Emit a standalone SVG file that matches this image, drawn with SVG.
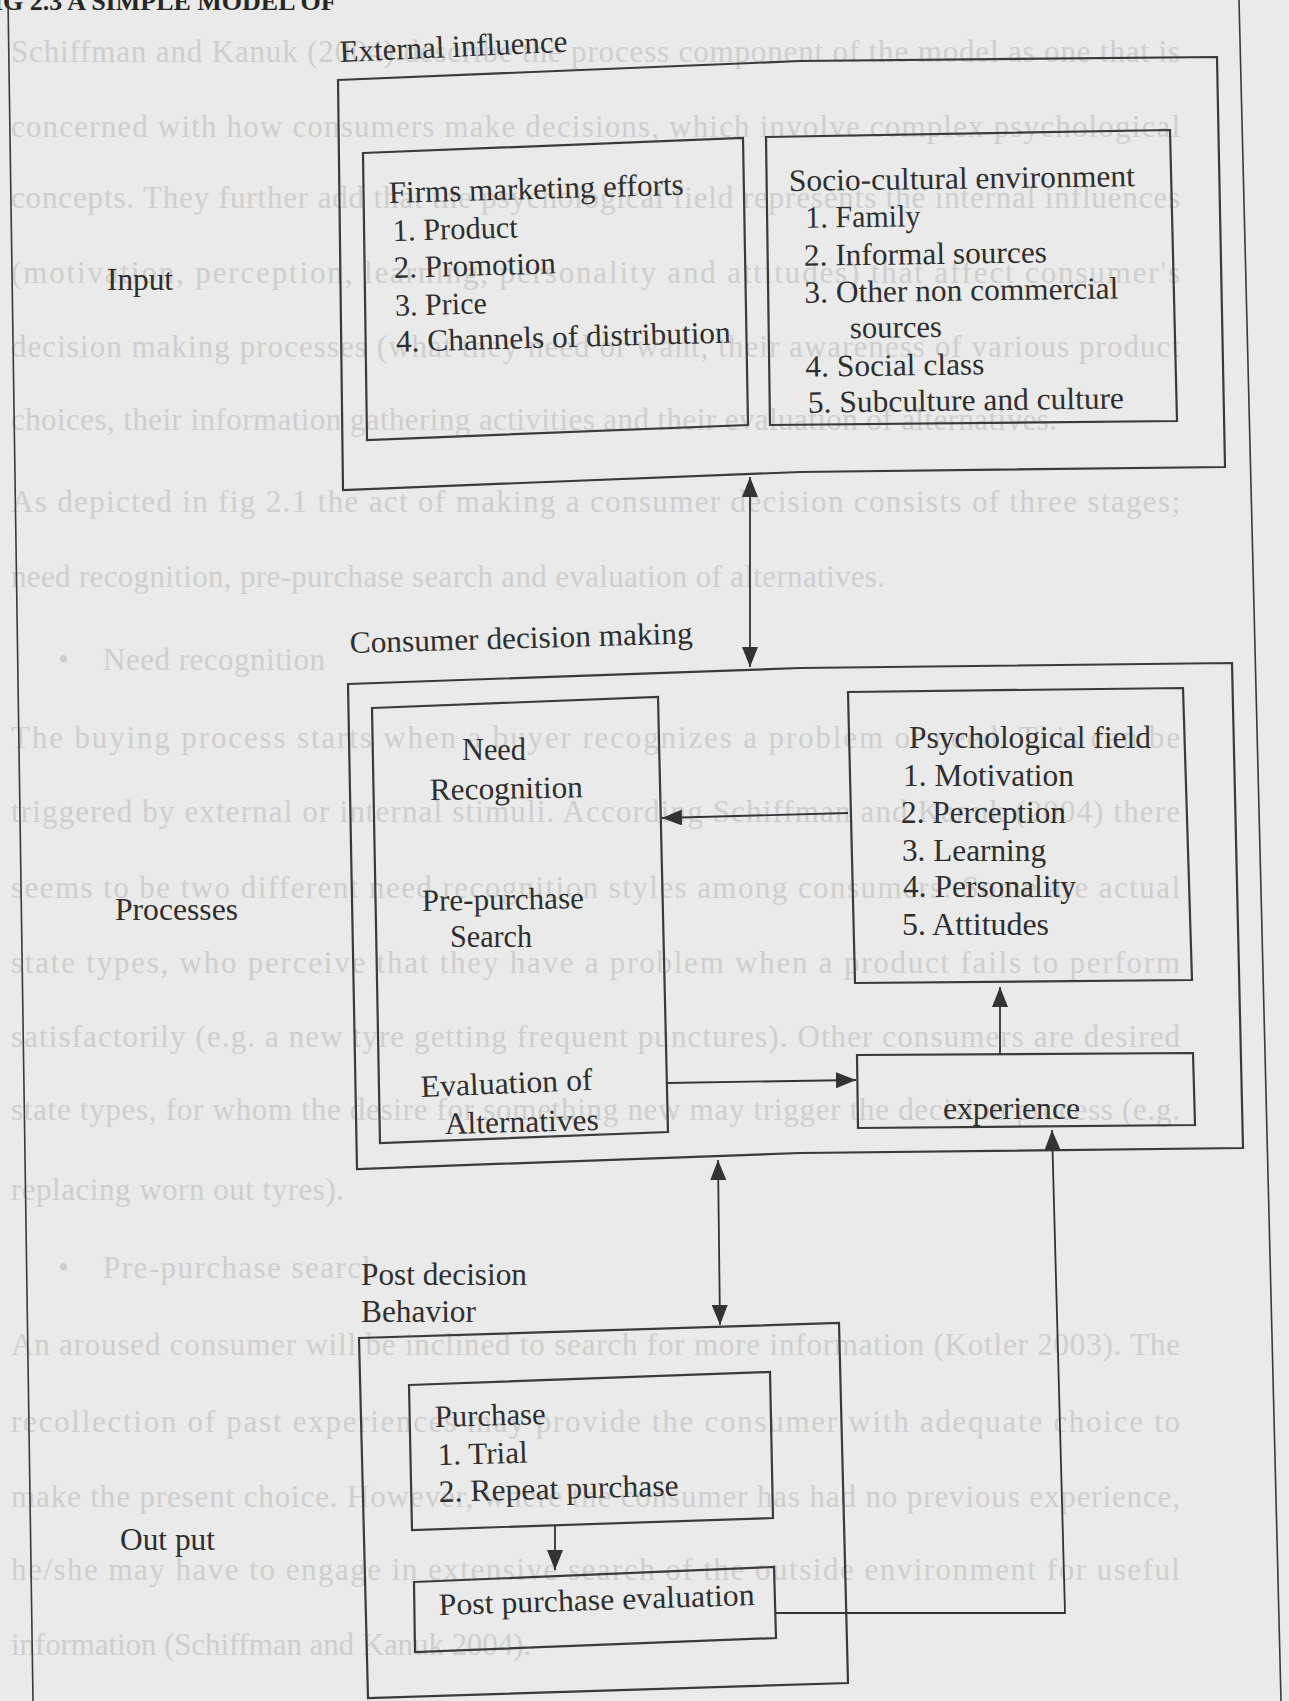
<svg xmlns="http://www.w3.org/2000/svg" width="1289" height="1701" viewBox="0 0 1289 1701">
<style>
.box{fill:none;stroke:#3a3a3a;stroke-width:2.2;stroke-linejoin:miter}
.pg{fill:none;stroke:#3a3a3a;stroke-width:1.6}
.con{fill:none;stroke:#333;stroke-width:1.8}
.t{font-family:"Liberation Serif","Times New Roman",serif;font-size:31px;fill:#2e2e2e}
.bg{font-family:"Liberation Serif","Times New Roman",serif;font-size:31px;fill:#cecece}
.hd{font-family:"Liberation Serif","Times New Roman",serif;font-size:26px;font-weight:bold;fill:#262626}
</style>
<defs>
<marker id="ah" viewBox="0 0 20 16" refX="20" refY="8" markerWidth="20" markerHeight="16" markerUnits="userSpaceOnUse" orient="auto-start-reverse">
<path d="M0,0 L20,8 L0,16 z" fill="#333"/>
</marker>
</defs>
<rect x="0" y="0" width="1289" height="1701" fill="#eaeaea"/>

<g id="background-text">
<text class="bg" x="11" y="62" textLength="1169" lengthAdjust="spacing">Schiffman and Kanuk (2004) describe the process component of the model as one that is</text>
<text class="bg" x="11" y="137" textLength="1169" lengthAdjust="spacing">concerned with how consumers make decisions, which involve complex psychological</text>
<text class="bg" x="11" y="208" textLength="1169" lengthAdjust="spacing">concepts. They further add that the psychological field represents the internal influences</text>
<text class="bg" x="11" y="283" textLength="1169" lengthAdjust="spacing">(motivation, perception, learning, personality and attitudes) that affect consumer's</text>
<text class="bg" x="11" y="357" textLength="1169" lengthAdjust="spacing">decision making processes (what they need or want, their awareness of various product</text>
<text class="bg" x="11" y="430" textLength="1046" lengthAdjust="spacing">choices, their information gathering activities and their evaluation of alternatives.</text>
<text class="bg" x="11" y="512" textLength="1169" lengthAdjust="spacing">As depicted in fig 2.1 the act of making a consumer decision consists of three stages;</text>
<text class="bg" x="11" y="587" textLength="874" lengthAdjust="spacing">need recognition, pre-purchase search and evaluation of alternatives.</text>
<text class="bg" x="58" y="670">•</text>
<text class="bg" x="103" y="670" textLength="222" lengthAdjust="spacing">Need recognition</text>
<text class="bg" x="11" y="748" textLength="1169" lengthAdjust="spacing">The buying process starts when a buyer recognizes a problem or need. This can be</text>
<text class="bg" x="11" y="822" textLength="1169" lengthAdjust="spacing">triggered by external or internal stimuli. According Schiffman and Kanuk (2004) there</text>
<text class="bg" x="11" y="898" textLength="1169" lengthAdjust="spacing">seems to be two different need recognition styles among consumers. Some are actual</text>
<text class="bg" x="11" y="973" textLength="1169" lengthAdjust="spacing">state types, who perceive that they have a problem when a product fails to perform</text>
<text class="bg" x="11" y="1047" textLength="1169" lengthAdjust="spacing">satisfactorily (e.g. a new tyre getting frequent punctures). Other consumers are desired</text>
<text class="bg" x="11" y="1120" textLength="1169" lengthAdjust="spacing">state types, for whom the desire for something new may trigger the decision process (e.g.</text>
<text class="bg" x="11" y="1200" textLength="333" lengthAdjust="spacing">replacing worn out tyres).</text>
<text class="bg" x="58" y="1278">•</text>
<text class="bg" x="103" y="1278" textLength="275" lengthAdjust="spacing">Pre-purchase search</text>
<text class="bg" x="11" y="1355" textLength="1169" lengthAdjust="spacing">An aroused consumer will be inclined to search for more information (Kotler 2003). The</text>
<text class="bg" x="11" y="1432" textLength="1169" lengthAdjust="spacing">recollection of past experiences may provide the consumer with adequate choice to</text>
<text class="bg" x="11" y="1507" textLength="1169" lengthAdjust="spacing">make the present choice. However, where the consumer has had no previous experience,</text>
<text class="bg" x="11" y="1580" textLength="1169" lengthAdjust="spacing">he/she may have to engage in extensive search of the outside environment for useful</text>
<text class="bg" x="11" y="1655" textLength="520" lengthAdjust="spacing">information (Schiffman and Kanuk 2004).</text>
</g>

<g id="page">
<text class="hd" x="-23" y="10">FIG 2.3 A SIMPLE MODEL OF</text>
<path class="pg" d="M8,0 L33,1701"/>
<path class="pg" d="M1239,0 L1281,1701"/>
<text class="t" x="107" y="290" textLength="66" lengthAdjust="spacingAndGlyphs">Input</text>
<text class="t" x="115" y="920" textLength="123" lengthAdjust="spacingAndGlyphs">Processes</text>
<text class="t" x="120" y="1550" textLength="95" lengthAdjust="spacingAndGlyphs">Out put</text>
</g>

<g id="external-influence">
<path class="box" d="M338,80 L800,61 L1217,57 L1225,467 L800,472 L343,490 Z"/>
<text class="t" x="340" y="62" textLength="228" lengthAdjust="spacingAndGlyphs" transform="rotate(-2.6 340 62)">External influence</text>
</g>

<g id="firms-marketing">
<path class="box" d="M363,153 L743,138 L748,425 L367,440 Z"/>
<g transform="rotate(-1.6 389 203)">
<text class="t" x="389" y="203" textLength="295" lengthAdjust="spacingAndGlyphs">Firms marketing efforts</text>
<text class="t" x="392" y="241" textLength="125" lengthAdjust="spacingAndGlyphs">1. Product</text>
<text class="t" x="392" y="278" textLength="162" lengthAdjust="spacingAndGlyphs">2. Promotion</text>
<text class="t" x="392" y="316" textLength="92" lengthAdjust="spacingAndGlyphs">3. Price</text>
<text class="t" x="392" y="352" textLength="335" lengthAdjust="spacingAndGlyphs">4. Channels of distribution</text>
</g>
</g>

<g id="socio-cultural">
<path class="box" d="M766,137 L1170,130 L1177,421 L770,425 Z"/>
<g transform="rotate(-0.8 789 191)">
<text class="t" x="789" y="191" textLength="346" lengthAdjust="spacingAndGlyphs">Socio-cultural environment</text>
<text class="t" x="805" y="228" textLength="115" lengthAdjust="spacingAndGlyphs">1. Family</text>
<text class="t" x="803" y="266" textLength="243" lengthAdjust="spacingAndGlyphs">2. Informal sources</text>
<text class="t" x="803" y="303" textLength="314" lengthAdjust="spacingAndGlyphs">3. Other non commercial</text>
<text class="t" x="848" y="339" textLength="92" lengthAdjust="spacingAndGlyphs">sources</text>
<text class="t" x="803" y="377" textLength="179" lengthAdjust="spacingAndGlyphs">4. Social class</text>
<text class="t" x="805" y="413" textLength="316" lengthAdjust="spacingAndGlyphs">5. Subculture and culture</text>
</g>
</g>

<g id="consumer-decision-making">
<path class="box" d="M348,684 L800,668 L1232,663 L1243,1148 L800,1153 L357,1169 Z"/>
<text class="t" x="350" y="653" textLength="343" lengthAdjust="spacingAndGlyphs" transform="rotate(-1.6 350 653)">Consumer decision making</text>
</g>

<g id="need-recognition">
<path class="box" d="M372,708 L658,697 L668,1132 L380,1143 Z"/>
<text class="t" x="462" y="760" textLength="64" lengthAdjust="spacingAndGlyphs">Need</text>
<text class="t" x="430" y="800" textLength="153" lengthAdjust="spacingAndGlyphs" transform="rotate(-1 430 800)">Recognition</text>
<text class="t" x="422" y="911" textLength="162" lengthAdjust="spacingAndGlyphs" transform="rotate(-1 422 911)">Pre-purchase</text>
<text class="t" x="450" y="947" textLength="82" lengthAdjust="spacingAndGlyphs">Search</text>
<text class="t" x="421" y="1097" textLength="172" lengthAdjust="spacingAndGlyphs" transform="rotate(-2.4 421 1097)">Evaluation of</text>
<text class="t" x="445" y="1134" textLength="154" lengthAdjust="spacingAndGlyphs" transform="rotate(-1.5 445 1134)">Alternatives</text>
</g>

<g id="psychological-field">
<path class="box" d="M848,692 L1183,688 L1192,980 L855,983 Z"/>
<text class="t" x="909" y="748" textLength="242" lengthAdjust="spacingAndGlyphs">Psychological field</text>
<text class="t" x="903" y="786" textLength="171" lengthAdjust="spacingAndGlyphs">1. Motivation</text>
<text class="t" x="901" y="823" textLength="165" lengthAdjust="spacingAndGlyphs">2. Perception</text>
<text class="t" x="902" y="861" textLength="144" lengthAdjust="spacingAndGlyphs">3. Learning</text>
<text class="t" x="903" y="897" textLength="173" lengthAdjust="spacingAndGlyphs">4. Personality</text>
<text class="t" x="902" y="935" textLength="147" lengthAdjust="spacingAndGlyphs">5. Attitudes</text>
</g>

<g id="experience">
<path class="box" d="M857,1055 L1193,1053 L1195,1125 L858,1128 Z"/>
<text class="t" x="943" y="1119" textLength="137" lengthAdjust="spacingAndGlyphs">experience</text>
</g>

<g id="post-decision-behavior">
<path class="box" d="M359,1338 L839,1323 L848,1683 L368,1698 Z"/>
<text class="t" x="361" y="1285" textLength="166" lengthAdjust="spacingAndGlyphs">Post decision</text>
<text class="t" x="361" y="1322" textLength="115" lengthAdjust="spacingAndGlyphs">Behavior</text>
</g>

<g id="purchase">
<path class="box" d="M409,1385 L770,1372 L773,1518 L412,1530 Z"/>
<g transform="rotate(-1.5 435 1427)">
<text class="t" x="435" y="1427" textLength="111" lengthAdjust="spacingAndGlyphs">Purchase</text>
<text class="t" x="437" y="1465" textLength="90" lengthAdjust="spacingAndGlyphs">1. Trial</text>
<text class="t" x="437" y="1502" textLength="240" lengthAdjust="spacingAndGlyphs">2. Repeat purchase</text>
</g>
</g>

<g id="post-purchase-evaluation">
<path class="box" d="M414,1582 L774,1567 L776,1638 L415,1652 Z"/>
<text class="t" x="439" y="1615" textLength="316" lengthAdjust="spacingAndGlyphs" transform="rotate(-1.8 439 1615)">Post purchase evaluation</text>
</g>

<g id="connectors">
<path class="con" d="M750,477 L750,667" marker-start="url(#ah)" marker-end="url(#ah)"/>
<path class="con" d="M848,813 L662,818" marker-end="url(#ah)"/>
<path class="con" d="M667,1083 L856,1080" marker-end="url(#ah)"/>
<path class="con" d="M1000,1055 L1000,987" marker-end="url(#ah)"/>
<path class="con" d="M718,1160 L720,1325" marker-start="url(#ah)" marker-end="url(#ah)"/>
<path class="con" d="M776,1613 L1065,1613 L1052,1130" marker-end="url(#ah)"/>
<path class="con" d="M555,1525 L555,1570" marker-end="url(#ah)"/>
</g>
</svg>
